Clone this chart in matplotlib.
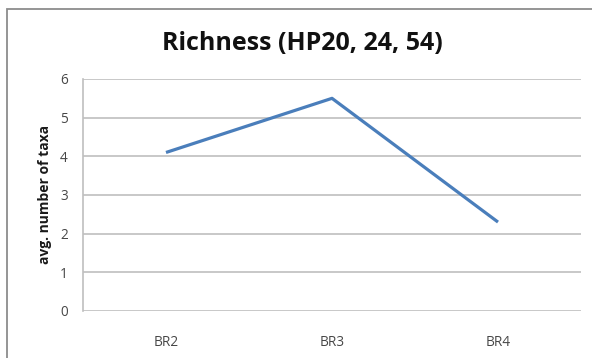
import matplotlib
matplotlib.use("Agg")
import matplotlib.pyplot as plt
from matplotlib.patches import Rectangle

categories = ["BR2", "BR3", "BR4"]
richness = [4.1, 5.5, 2.3]
y_ticks = [0, 1, 2, 3, 4, 5, 6]

W, H = 592, 358
fig = plt.figure(figsize=(W / 100, H / 100), dpi=100)
fig.patch.set_facecolor("white")

# chart frame
fig.add_artist(Rectangle((7 / W, -0.05), 1.2, 1 - 9 / H + 0.05,
                         transform=fig.transFigure, fill=False,
                         edgecolor="#8c8c8c", linewidth=1.3))

ax = fig.add_axes([83 / W, 1 - 311 / H, (581 - 83) / W, (311 - 79) / H])
x = list(range(len(categories)))
ax.plot(x, richness, color="#4a7ebb", linewidth=2.3, solid_capstyle="butt")

ax.set_xlim(-0.5, len(categories) - 0.5)
ax.set_ylim(0, 6)
ax.set_yticks(y_ticks)
ax.set_xticks(x)
ax.set_xticklabels(categories)
ax.grid(axis="y", color="#bfbfbf", linewidth=1.2)
ax.set_axisbelow(True)
for side in ["top", "right", "bottom"]:
    ax.spines[side].set_visible(False)
ax.spines["left"].set_color("#bfbfbf")
ax.spines["left"].set_linewidth(1.2)
ax.tick_params(axis="both", length=0, labelcolor="#474747")
ax.tick_params(axis="y", pad=11)
ax.tick_params(axis="x", pad=17)
for lbl in ax.get_xticklabels() + ax.get_yticklabels():
    lbl.set_family("Open Sans")
    lbl.set_fontsize(9.8)

ax.set_ylabel("avg. number of taxa", fontsize=10, fontweight="bold",
              family="Open Sans", color="#1a1a1a", labelpad=6)

fig.text(302 / W, 1 - 44 / H, "Richness (HP20, 24, 54)", ha="center",
         va="center", fontsize=18, fontweight="bold", family="Open Sans",
         color="#111111")

fig.savefig("out.png", dpi=100)
